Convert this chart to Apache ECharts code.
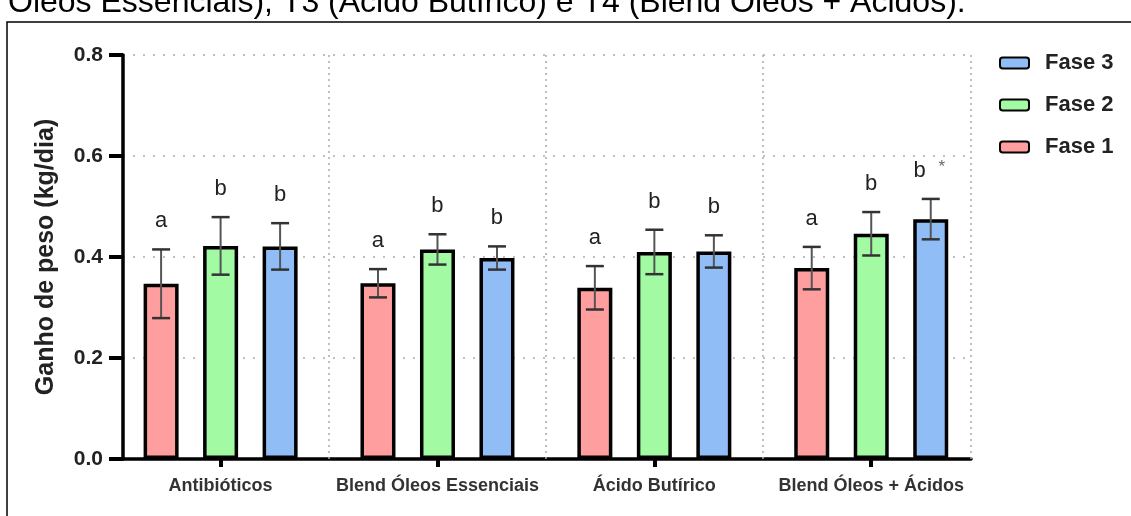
<!DOCTYPE html>
<html>
<head>
<meta charset="utf-8">
<script src="https://cdn.jsdelivr.net/npm/echarts@6/dist/echarts.min.js"></script>
<style>
  html, body { margin: 0; padding: 0; background: #fff; }
  #chart { width: 1131px; height: 516px; }
</style>
</head>
<body>
<div id="chart"></div>
<script>
// tratamentos e fases
const categories = ['Antibióticos', 'Blend Óleos Essenciais', 'Ácido Butírico', 'Blend Óleos + Ácidos']
const phases = ['Fase 1', 'Fase 2', 'Fase 3']

// ganho de peso médio (kg/dia) e erro
const fase1Mean = [0.347, 0.348, 0.339, 0.378]
const fase1Err = [0.068, 0.028, 0.043, 0.042]
const fase2Mean = [0.422, 0.415, 0.410, 0.446]
const fase2Err = [0.057, 0.030, 0.044, 0.043]
const fase3Mean = [0.421, 0.398, 0.411, 0.475]
const fase3Err = [0.046, 0.023, 0.032, 0.040]

// letras de significancia (* = diferenca extra)
const fase1Letters = ['a', 'a', 'a', 'a']
const fase2Letters = ['b', 'b', 'b', 'b']
const fase3Letters = ['b', 'b', 'b', 'b*']

const yTicks = [0, 0.2, 0.4, 0.6, 0.8]

const caption = 'Óleos Essenciais), T3 (Ácido Butírico) e T4 (Blend Óleos + Ácidos).'

const colors = ['#ff9e9e', '#a2fba2', '#91bdf6']
const means = [fase1Mean, fase2Mean, fase3Mean]
const errs = [fase1Err, fase2Err, fase3Err]
const letters = [fase1Letters, fase2Letters, fase3Letters]

const BAR_W = 35
const BAR_GAP = 0.7
const FONT = '"Liberation Sans", Arial, sans-serif'

const catIdx = categories.map((c, i) => i)
// divisoes entre grupos (linhas pontilhadas verticais)
const X_MIN = -0.45
const X_MAX = 3.46
const dividers = catIdx.slice(0, -1).map(i => i + 0.5).concat([X_MAX])

const chart = echarts.init(document.getElementById('chart'))

const barSeries = phases.map((name, k) => ({
  name: name,
  type: 'bar',
  barWidth: BAR_W,
  barGap: (BAR_GAP * 100) + '%',
  z: 2,
  itemStyle: {
    color: colors[k],
    borderColor: '#000',
    borderWidth: 3.5
  },
  data: catIdx.map(i => [i, means[k][i]])
}))

// linhas verticais pontilhadas (na serie do meio, sem deslocamento)
barSeries[1].markLine = {
  silent: true,
  symbol: ['none', 'none'],
  label: { show: false },
  lineStyle: { type: [2, 4], color: '#aaa', width: 1.5 },
  data: dividers.map(v => ({ xAxis: v }))
}

const errSeries = phases.map((name, k) => ({
  name: name + ' erro',
  type: 'custom',
  z: 5,
  silent: true,
  renderItem: function (params, api) {
    const i = api.value(0)
    const m = means[k][params.dataIndex]
    const e = errs[k][params.dataIndex]
    const shift = (k - 1) * BAR_W * (1 + BAR_GAP)
    const top = api.coord([i, m + e])
    const bot = api.coord([i, m - e])
    const x = top[0] + shift
    const cap = 9
    const lt = letters[k][params.dataIndex]
    const star = lt.indexOf('*') >= 0
    const children = [
      { type: 'line', shape: { x1: x, y1: top[1], x2: x, y2: bot[1] }, style: { stroke: '#555', lineWidth: 2 } },
      { type: 'line', shape: { x1: x - cap, y1: top[1], x2: x + cap, y2: top[1] }, style: { stroke: '#333', lineWidth: 2.5 } },
      { type: 'line', shape: { x1: x - cap, y1: bot[1], x2: x + cap, y2: bot[1] }, style: { stroke: '#333', lineWidth: 2.5 } },
      {
        type: 'text',
        style: {
          text: lt.replace('*', ''),
          x: star ? x - 11 : x,
          y: top[1] - 17,
          align: 'center',
          verticalAlign: 'bottom',
          font: '22px ' + FONT,
          fill: '#222'
        }
      }
    ]
    if (star) {
      children.push({
        type: 'text',
        style: {
          text: '*',
          x: x + 11,
          y: top[1] - 32,
          align: 'center',
          verticalAlign: 'middle',
          font: '17px ' + FONT,
          fill: '#666'
        }
      })
    }
    return { type: 'group', children: children }
  },
  data: catIdx.map(i => [i, means[k][i] - errs[k][i], means[k][i] + errs[k][i]])
}))

const option = {
  animation: false,
  backgroundColor: '#fff',
  textStyle: { fontFamily: FONT },
  graphic: [
    {
      type: 'rect',
      shape: { x: 7, y: 22, width: 1200, height: 600 },
      style: { fill: 'none', stroke: '#000', lineWidth: 1.5 },
      silent: true
    },
    {
      type: 'text',
      x: 8,
      y: 19,
      style: {
        text: caption,
        font: '32px ' + FONT,
        fill: '#000',
        verticalAlign: 'bottom'
      },
      silent: true
    }
  ],
  legend: {
    data: ['Fase 3', 'Fase 2', 'Fase 1'],
    orient: 'vertical',
    left: 994,
    top: 47,
    itemWidth: 29,
    itemHeight: 11,
    itemGap: 20,
    selectedMode: false,
    textStyle: {
      fontSize: 22,
      fontWeight: 'bold',
      color: '#222',
      padding: [0, 0, 0, 11]
    }
  },
  grid: {
    left: 123,
    top: 55,
    width: 848,
    height: 404
  },
  xAxis: {
    type: 'value',
    min: X_MIN,
    max: X_MAX,
    axisLine: { show: true, onZero: false, lineStyle: { color: '#000', width: 3.5 } },
    axisTick: { show: true, customValues: catIdx, length: 8, lineStyle: { color: '#000', width: 4 } },
    axisLabel: {
      customValues: catIdx,
      formatter: v => categories[Math.round(v)],
      margin: 18,
      fontSize: 18,
      fontWeight: 'bold',
      color: '#333'
    },
    splitLine: { show: false }
  },
  yAxis: {
    type: 'value',
    min: yTicks[0],
    max: yTicks[yTicks.length - 1],
    interval: 0.2,
    name: 'Ganho de peso (kg/dia)',
    nameLocation: 'middle',
    nameGap: 64,
    nameTextStyle: { fontSize: 25, fontWeight: 'bold', color: '#222' },
    axisLine: { show: true, onZero: false, lineStyle: { color: '#000', width: 3.5 } },
    axisTick: { show: true, length: 14, lineStyle: { color: '#000', width: 4 } },
    axisLabel: {
      formatter: v => v.toFixed(1),
      margin: 20,
      fontSize: 21,
      fontWeight: 'bold',
      color: '#222'
    },
    splitLine: { show: true, lineStyle: { type: [2, 8], color: '#aaa', width: 1.5 } }
  },
  series: barSeries.concat(errSeries)
}

chart.setOption(option)
window.addEventListener('resize', function () {
  chart.resize()
})
</script>
</body>
</html>
